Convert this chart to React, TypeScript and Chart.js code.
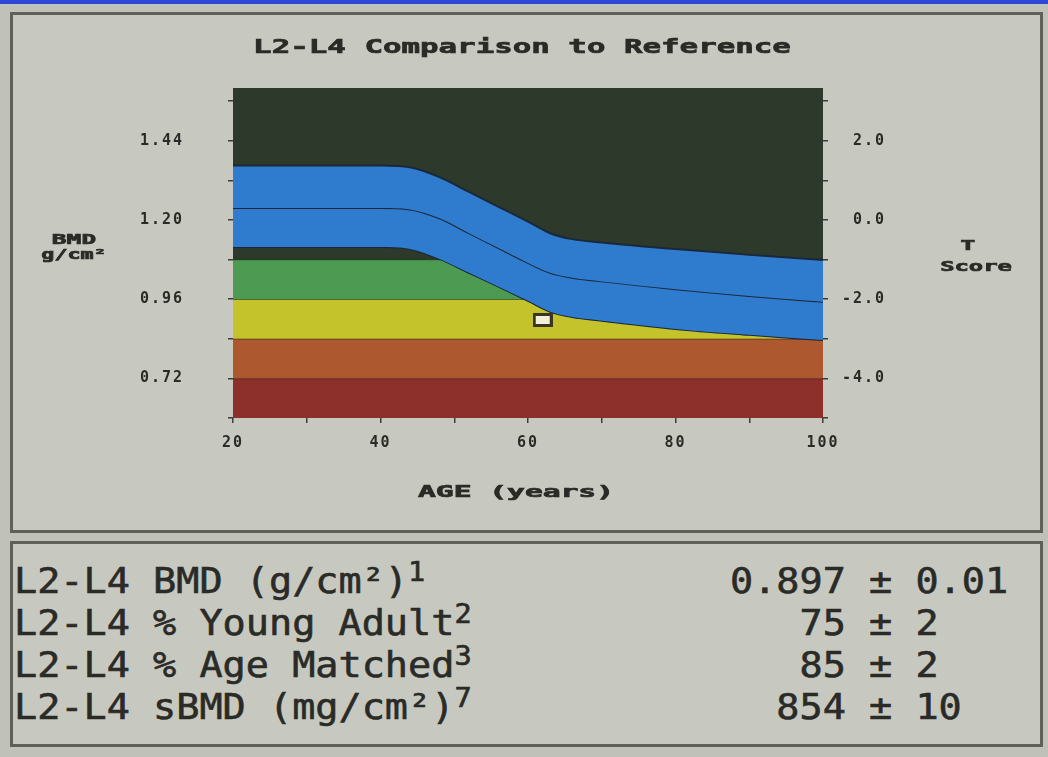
import React, { useEffect, useRef } from 'react';
import { Chart, registerables } from 'chart.js';
Chart.register(...registerables);

// ---- text ----
const chartTitle = 'L2-L4 Comparison to Reference';
const xAxisTitle = 'AGE (years)';
const yLeftTitle = ['BMD', 'g/cm²'];
const yRightTitle = ['T', 'Score'];

// ---- reference curve (age-matched mean and ±1 SD), g/cm² ----
const curveAges = [20, 30, 40, 44, 48, 52, 56, 60, 63, 66, 70, 80, 90, 100];
const plusOneSD = [1.365, 1.365, 1.365, 1.36, 1.33, 1.285, 1.24, 1.195, 1.16, 1.142, 1.132, 1.112, 1.095, 1.079];
const meanBMD = [1.236, 1.236, 1.236, 1.232, 1.205, 1.16, 1.115, 1.07, 1.04, 1.025, 1.014, 0.99, 0.97, 0.952];
const minusOneSD = [1.118, 1.118, 1.118, 1.112, 1.082, 1.04, 0.998, 0.955, 0.922, 0.906, 0.895, 0.87, 0.852, 0.836];

// ---- T-score zones (upper limit of each band, g/cm²) ----
const bandAges = [20, 100];
const bandUpper = [0.72, 0.84, 0.96, 1.08];

// ---- patient ----
const patientAge = 62;
const patientBMD = 0.897;

// ---- axes ----
const bmdMin = 0.6;
const bmdMax = 1.6;
const youngAdultMean = 1.2;
const youngAdultSD = 0.12;
const bmdTickValues = [0.6, 0.72, 0.84, 0.96, 1.08, 1.2, 1.32, 1.44, 1.56];
const bmdTickLabels = ['', '0.72', '', '0.96', '', '1.20', '', '1.44', ''];
const tTickValues = [-5, -4, -3, -2, -1, 0, 1, 2, 3];
const tTickLabels = ['', '-4.0', '', '-2.0', '', ' 0.0', '', ' 2.0', ''];
const ageTickValues = [20, 30, 40, 50, 60, 70, 80, 90, 100];
const ageTickLabels = ['20', '', '40', '', '60', '', '80', '', '100'];

// ---- results table ----
const tableLabels = ['L2-L4 BMD (g/cm²)', 'L2-L4 % Young Adult', 'L2-L4 % Age Matched', 'L2-L4 sBMD (mg/cm²)'];
const tableNotes = ['1', '2', '3', '7'];
const tableValues = ['0.897 ± 0.01', '75 ± 2', '85 ± 2', '854 ± 10'];

// ---- styles ----
const PAGE_BG = '#c0c2b9';
const PANEL_BG = '#c7c9c0';
const PANEL_BORDER = '#5e605a';
const PLOT_BG = '#2d3a2b';
const BAND_COLORS = ['#8d2f2b', '#ae5830', '#c5c32b', '#4d9a52'];
const BLUE = '#2f7bcd';
const OUTLINE = '#1b283a';
const TEXT = '#2a2b27';
const MONO = '"DejaVu Sans Mono", "Liberation Mono", monospace';

function labelFor(values: number[], labels: string[], v: number) {
  const i = values.findIndex((x) => Math.abs(x - v) < 1e-6);
  return i >= 0 ? labels[i] : '';
}

function stretched(ctx: CanvasRenderingContext2D, text: string, cx: number, cy: number, size: number, sx: number) {
  ctx.save();
  ctx.letterSpacing = '0px';
  ctx.font = `bold ${size}px ${MONO}`;
  ctx.fillStyle = TEXT;
  ctx.strokeStyle = TEXT;
  ctx.lineWidth = 0.7;
  ctx.textAlign = 'center';
  ctx.textBaseline = 'middle';
  ctx.translate(cx, cy);
  ctx.scale(sx, 1);
  ctx.fillText(text, 0, 0);
  ctx.strokeText(text, 0, 0);
  ctx.restore();
}

const decorPlugin = {
  id: 'decor',
  beforeDraw(chart: any) {
    chart.ctx.letterSpacing = '2px';
  },
  beforeDatasetsDraw(chart: any) {
    const { ctx, chartArea: a } = chart;
    ctx.save();
    ctx.fillStyle = PLOT_BG;
    ctx.fillRect(a.left, a.top, a.right - a.left, a.bottom - a.top);
    ctx.restore();
  },
  afterDraw(chart: any) {
    const ctx = chart.ctx as CanvasRenderingContext2D;
    const a = chart.chartArea;
    stretched(ctx, chartTitle, (a.left + a.right) / 2 - 6, 48, 20, 1.54);
    stretched(ctx, xAxisTitle, (a.left + a.right) / 2 - 12, 493, 16, 1.85);
    stretched(ctx, yLeftTitle[0], 74, 240, 14, 1.75);
    stretched(ctx, yLeftTitle[1], 74, 255, 14, 1.55);
    stretched(ctx, yRightTitle[0], 968, 246, 14, 1.75);
    stretched(ctx, yRightTitle[1], 976, 267, 14, 1.7);
    ctx.letterSpacing = '0px';
  },
};

function makeMarker() {
  const c = document.createElement('canvas');
  c.width = 20;
  c.height = 14;
  const g = c.getContext('2d')!;
  g.fillStyle = '#3b3522';
  g.fillRect(0, 0, 20, 14);
  g.fillStyle = '#f3efd9';
  g.fillRect(3, 3, 14, 8);
  return c;
}

export default function App() {
  const ref = useRef<HTMLCanvasElement | null>(null);

  useEffect(() => {
    document.body.style.margin = '0';
    const canvas = ref.current!;
    const pts = (ys: number[]) => curveAges.map((x, i) => ({ x, y: ys[i] }));
    const bandDatasets = bandUpper.map((v, i) => ({
      type: 'line' as const,
      data: bandAges.map((x) => ({ x, y: v })),
      backgroundColor: BAND_COLORS[i],
      borderColor: 'rgba(25,25,20,0.55)',
      borderWidth: 1.5,
      pointRadius: 0,
      fill: i === 0 ? 'start' : i - 1,
      order: 20 - i,
    }));
    const curveStyle = {
      type: 'line' as const,
      borderColor: OUTLINE,
      borderWidth: 2,
      pointRadius: 0,
      backgroundColor: BLUE,
      cubicInterpolationMode: 'monotone' as const,
    };
    const tickStyle = (tickPad: number) => ({
      font: { family: MONO, size: 15, weight: 'bold' as const },
      color: TEXT,
      padding: tickPad,
      autoSkip: false,
      maxRotation: 0,
    });
    const gridStyle = { drawOnChartArea: false, drawTicks: true, tickLength: 5, color: '#3d3e39', lineWidth: 1.5 };

    const chart = new Chart(canvas, {
      type: 'line',
      data: {
        datasets: [
          ...bandDatasets,
          { ...curveStyle, data: pts(minusOneSD), fill: false, order: 3 },
          { ...curveStyle, data: pts(meanBMD), fill: 4, order: 2 },
          { ...curveStyle, data: pts(plusOneSD), fill: 5, order: 1 },
          {
            type: 'scatter',
            data: [{ x: patientAge, y: patientBMD }],
            pointStyle: makeMarker(),
            pointRadius: 7,
            order: 0,
          },
        ] as any,
      },
      options: {
        responsive: false,
        animation: false,
        layout: { padding: { top: 88, left: 0, right: 0, bottom: 0 } },
        plugins: { legend: { display: false }, tooltip: { enabled: false }, title: { display: false } },
        scales: {
          x: {
            type: 'linear',
            min: 20,
            max: 100,
            afterBuildTicks: (s: any) => { s.ticks = ageTickValues.map((value) => ({ value })); },
            afterFit: (s: any) => { s.height = 112; },
            ticks: { ...tickStyle(11), callback: (v: any) => labelFor(ageTickValues, ageTickLabels, Number(v)) },
            grid: gridStyle,
            border: { display: false },
          },
          y: {
            position: 'left',
            min: bmdMin,
            max: bmdMax,
            afterBuildTicks: (s: any) => { s.ticks = bmdTickValues.map((value) => ({ value })); },
            afterFit: (s: any) => { s.width = 233; },
            ticks: { ...tickStyle(44), callback: (v: any) => labelFor(bmdTickValues, bmdTickLabels, Number(v)) },
            grid: gridStyle,
            border: { display: false },
          },
          yT: {
            position: 'right',
            min: (bmdMin - youngAdultMean) / youngAdultSD,
            max: (bmdMax - youngAdultMean) / youngAdultSD,
            afterBuildTicks: (s: any) => { s.ticks = tTickValues.map((value) => ({ value })); },
            afterFit: (s: any) => { s.width = 225; },
            ticks: { ...tickStyle(14), callback: (v: any) => labelFor(tTickValues, tTickLabels, Number(v)) },
            grid: gridStyle,
            border: { display: false },
          },
        },
      } as any,
      plugins: [decorPlugin],
    });
    return () => chart.destroy();
  }, []);

  const pmIndex = Math.max(...tableValues.map((s) => s.indexOf('±')));
  const rowTop = 560;
  const rowH = 42;
  const rowStyle: React.CSSProperties = {
    position: 'absolute',
    height: rowH,
    lineHeight: rowH + 'px',
    fontFamily: MONO,
    fontSize: 35,
    color: TEXT,
    whiteSpace: 'pre',
    transform: 'scaleX(1.1)',
    transformOrigin: 'left center',
    WebkitTextStroke: '0.6px ' + TEXT,
  } as any;

  return (
    <div style={{ position: 'fixed', left: 0, top: 0, width: 1048, height: 757, background: PAGE_BG, overflow: 'hidden' }}>
      <div style={{ position: 'absolute', left: 0, top: 0, width: 1048, height: 4, background: '#2a47d6' }} />
      <div style={{ position: 'absolute', left: 10, top: 12, width: 1033, height: 521, boxSizing: 'border-box', border: `3px solid ${PANEL_BORDER}`, background: PANEL_BG }} />
      <div style={{ position: 'absolute', left: 10, top: 541, width: 1033, height: 206, boxSizing: 'border-box', border: `3px solid ${PANEL_BORDER}`, background: PANEL_BG }} />
      <canvas ref={ref} width={1048} height={530} style={{ position: 'absolute', left: 0, top: 0, width: 1048, height: 530 }} />
      {tableLabels.map((lab, i) => (
        <div key={'l' + i} style={{ ...rowStyle, left: 14, top: rowTop + i * rowH }}>
          {lab}
          <span style={{ fontSize: 26, position: 'relative', top: -12 }}>{tableNotes[i]}</span>
        </div>
      ))}
      {tableValues.map((val, i) => (
        <div key={'v' + i} style={{ ...rowStyle, left: 730, top: rowTop + i * rowH }}>
          {' '.repeat(pmIndex - val.indexOf('±')) + val}
        </div>
      ))}
    </div>
  );
}
